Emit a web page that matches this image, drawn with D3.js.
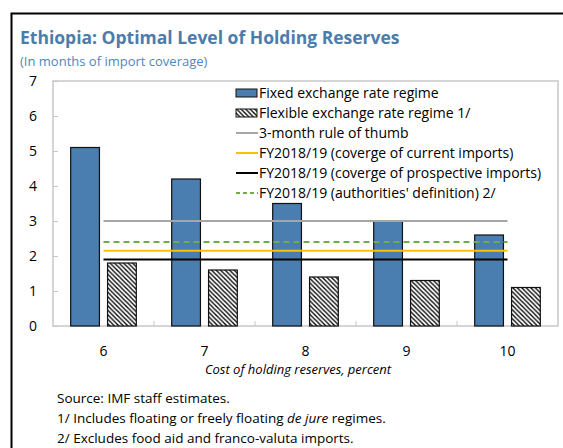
<!DOCTYPE html>
<html>
<head>
<meta charset="utf-8">
<script src="https://cdn.jsdelivr.net/npm/d3@7"></script>
<style>
  body { margin: 0; background: #fff; }
  svg { display: block; font-family: "Open Sans", "Noto Sans", sans-serif; }
</style>
</head>
<body>
<div id="chart"></div>
<script>
// cost of holding reserves (percent)
const categories = [6, 7, 8, 9, 10];
const fixedRegime = [5.1, 4.2, 3.5, 3.0, 2.6];
const flexibleRegime = [1.8, 1.6, 1.4, 1.3, 1.1];

// reference levels, months of imports
const refLines = [
  { key: "thumb", label: "3-month rule of thumb", value: 3.0 },
  { key: "current", label: "FY2018/19 (coverge of current imports)", value: 2.15 },
  { key: "prospective", label: "FY2018/19 (coverge of prospective imports)", value: 1.9 },
  { key: "authorities", label: "FY2018/19 (authorities' definition) 2/", value: 2.4 }
];
const yTicks = [0, 1, 2, 3, 4, 5, 6, 7];

const notes = [
  ["Source: IMF staff estimates."],
  ["1/ Includes floating or freely floating ", "de jure", " regimes."],
  ["2/ Excludes food aid and franco-valuta imports."]
];

const width = 563, height = 448;
const margin = { left: 53, right: 5, top: 81, bottom: 122 };

const svg = d3.select("#chart").append("svg")
  .attr("width", width)
  .attr("height", height);

// pattern for flexible bars
const defs = svg.append("defs");
const pat = defs.append("pattern")
  .attr("id", "hatch")
  .attr("patternUnits", "userSpaceOnUse")
  .attr("width", 4.5)
  .attr("height", 4.5);
pat.append("rect").attr("width", 4.5).attr("height", 4.5).attr("fill", "#fff");
pat.append("path")
  .attr("d", "M-1,-1 L5.5,5.5 M-1,3.5 L1,5.5 M3.5,-1 L5.5,1")
  .attr("stroke", "#000")
  .attr("stroke-width", 1.3);

// outer frame
svg.append("rect")
  .attr("x", 11.5).attr("y", 13.5)
  .attr("width", 600).attr("height", 600)
  .attr("fill", "none")
  .attr("stroke", "#000")
  .attr("stroke-width", 2);

svg.append("text")
  .attr("x", 20).attr("y", 44)
  .attr("font-size", 17.5)
  .attr("font-weight", "bold")
  .attr("fill", "#4a7dac")
  .text("Ethiopia: Optimal Level of Holding Reserves");

svg.append("text")
  .attr("x", 20).attr("y", 66)
  .attr("font-size", 13)
  .attr("fill", "#4f86bf")
  .text("(In months of import coverage)");

const x = d3.scaleBand()
  .domain(categories)
  .range([margin.left, width - margin.right])
  .padding(0);

const sub = d3.scaleBand()
  .domain(["fixed", "flexible"])
  .range([0, x.bandwidth()])
  .paddingInner(0.22)
  .paddingOuter(0.48);

const y = d3.scaleLinear()
  .domain([0, 7])
  .range([height - margin.bottom, margin.top]);

// plot frame
svg.append("rect")
  .attr("x", margin.left).attr("y", margin.top)
  .attr("width", width - margin.left - margin.right)
  .attr("height", y(0) - margin.top)
  .attr("fill", "none")
  .attr("stroke", "#c8c8c8")
  .attr("stroke-width", 1.5);

// y axis, inward ticks
const yAxis = svg.append("g")
  .attr("transform", `translate(${margin.left},0)`)
  .call(d3.axisRight(y).tickValues(yTicks).tickSize(5).tickFormat(""));
yAxis.select(".domain").remove();
yAxis.selectAll("line").attr("stroke", "#c8c8c8").attr("stroke-width", 1);

svg.append("g").selectAll("text")
  .data(yTicks)
  .join("text")
  .attr("x", 37)
  .attr("y", d => y(d))
  .attr("dy", "0.35em")
  .attr("text-anchor", "end")
  .attr("font-size", 14)
  .attr("fill", "#000")
  .text(d => d);

// x axis: ticks at category boundaries
const bounds = categories.slice(1).map(c => x(c));
svg.append("g").selectAll("line")
  .data(bounds)
  .join("line")
  .attr("x1", d => d).attr("x2", d => d)
  .attr("y1", y(0)).attr("y2", y(0) - 5)
  .attr("stroke", "#c8c8c8");

svg.append("g").selectAll("text")
  .data(categories)
  .join("text")
  .attr("x", d => x(d) + x.bandwidth() / 2)
  .attr("y", 356)
  .attr("text-anchor", "middle")
  .attr("font-size", 14)
  .text(d => d);

svg.append("text")
  .attr("x", 298).attr("y", 374)
  .attr("text-anchor", "middle")
  .attr("font-size", 13)
  .attr("font-style", "italic")
  .text("Cost of holding reserves, percent");

// bars
const barData = categories.flatMap((c, i) => [
  { cat: c, key: "fixed", value: fixedRegime[i] },
  { cat: c, key: "flexible", value: flexibleRegime[i] }
]);

svg.append("g").selectAll("rect")
  .data(barData)
  .join("rect")
  .attr("x", d => x(d.cat) + sub(d.key))
  .attr("y", d => y(d.value))
  .attr("width", sub.bandwidth())
  .attr("height", d => y(0) - y(d.value))
  .attr("fill", d => d.key === "fixed" ? "#4a7eb0" : "url(#hatch)")
  .attr("stroke", "#111")
  .attr("stroke-width", 1.2);

// reference lines
const lineStyle = {
  thumb: { color: "#a6a6a6", dash: null, w: 2.2 },
  current: { color: "#ffc000", dash: null, w: 2.2 },
  prospective: { color: "#000", dash: null, w: 2.2 },
  authorities: { color: "#70ad47", dash: "6,4", w: 2.2 }
};
const x0 = x(categories[0]) + x.bandwidth() / 2;
const x1 = x(categories[categories.length - 1]) + x.bandwidth() / 2;

svg.append("g").selectAll("line")
  .data(refLines)
  .join("line")
  .attr("x1", x0).attr("x2", x1)
  .attr("y1", d => y(d.value)).attr("y2", d => y(d.value))
  .attr("stroke", d => lineStyle[d.key].color)
  .attr("stroke-width", d => lineStyle[d.key].w)
  .attr("stroke-dasharray", d => lineStyle[d.key].dash);

// legend
const legendItems = [
  { label: "Fixed exchange rate regime", type: "fixed" },
  { label: "Flexible exchange rate regime 1/", type: "flexible" },
  ...refLines.map(d => ({ label: d.label, type: "line", key: d.key }))
];
const legend = svg.append("g").attr("transform", "translate(236,93)");
const item = legend.selectAll("g")
  .data(legendItems)
  .join("g")
  .attr("transform", (d, i) => `translate(0,${i * 20})`);

item.filter(d => d.type !== "line").append("rect")
  .attr("x", 0).attr("y", -4)
  .attr("width", 21).attr("height", 8)
  .attr("fill", d => d.type === "fixed" ? "#4a7eb0" : "url(#hatch)")
  .attr("stroke", "#111")
  .attr("stroke-width", 1);

item.filter(d => d.type === "line").append("line")
  .attr("x1", 0).attr("x2", 22)
  .attr("stroke", d => lineStyle[d.key].color)
  .attr("stroke-width", 2)
  .attr("stroke-dasharray", d => d.key === "authorities" ? "4,3" : null);

item.append("text")
  .attr("x", 23)
  .attr("dy", "0.35em")
  .attr("font-size", 14)
  .text(d => d.label);

// footnotes
const noteG = svg.append("g");
notes.forEach((parts, i) => {
  const t = noteG.append("text")
    .attr("x", 57)
    .attr("y", 403 + i * 20)
    .attr("font-size", 13.5);
  parts.forEach((p, j) => {
    t.append("tspan")
      .attr("font-style", j === 1 ? "italic" : null)
      .text(p);
  });
});
</script>
</body>
</html>
